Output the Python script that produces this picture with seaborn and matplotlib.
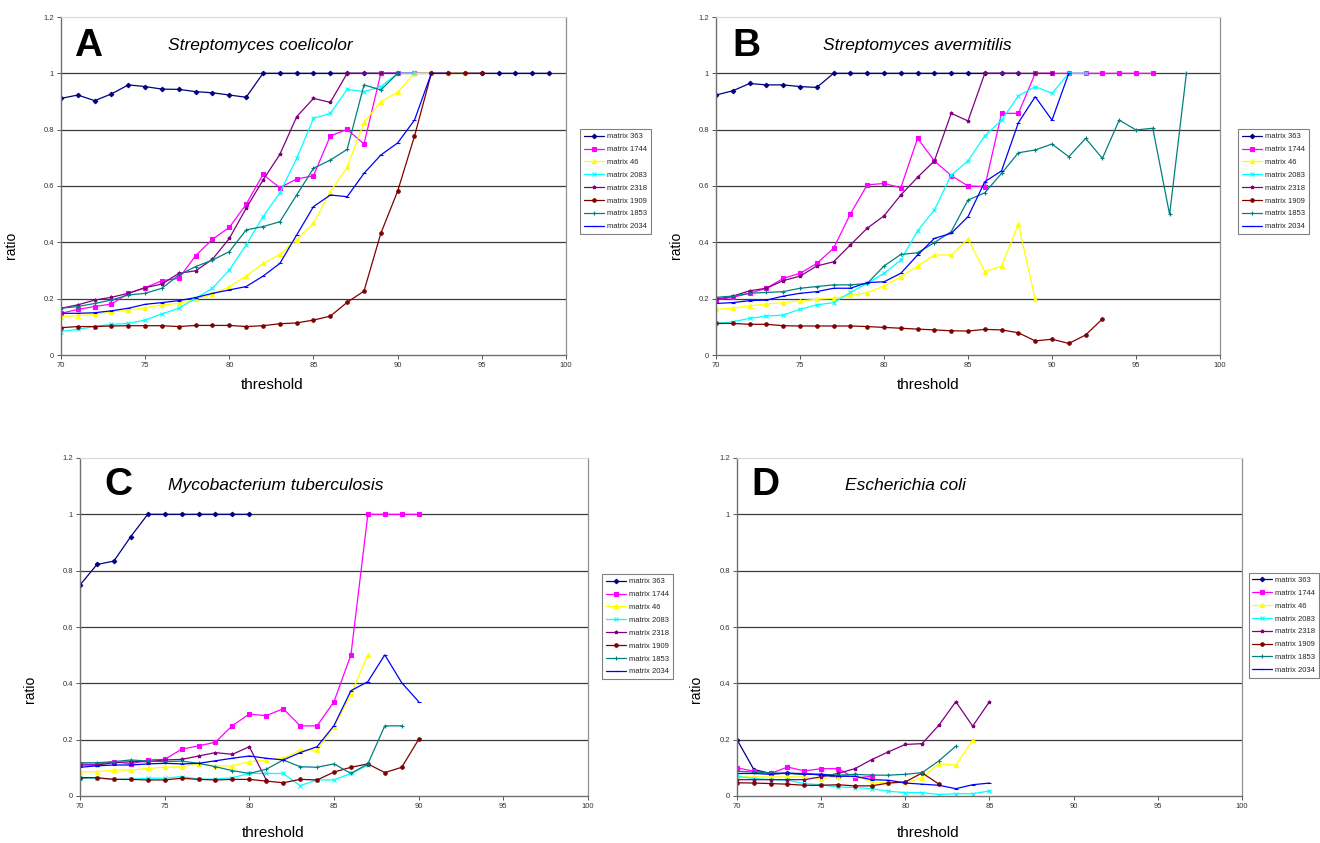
import matplotlib
matplotlib.use("Agg")
import matplotlib.pyplot as plt
import seaborn as sns
import numpy as np

# ---------------- data ----------------
START = 70
SERIES = ["matrix 363", "matrix 1744", "matrix 46", "matrix 2083",
          "matrix 2318", "matrix 1909", "matrix 1853", "matrix 2034"]

# Panel A - Streptomyces coelicolor
a_363 = [0.911, 0.923, 0.903, 0.927, 0.959, 0.953, 0.944, 0.943, 0.935, 0.931, 0.923, 0.915,
         1.0, 1.0, 1.0, 1.0, 1.0, 1.0, 1.0, 1.0, 1.0, 1.0, 1.0, 1.0, 1.0, 1.0, 1.0, 1.0, 1.0, 1.0]
a_1744 = [0.148, 0.162, 0.172, 0.181, 0.219, 0.239, 0.264, 0.272, 0.353, 0.411, 0.453, 0.535,
          0.641, 0.594, 0.625, 0.636, 0.778, 0.801, 0.749, 1.0, 1.0, 1.0]
a_46 = [0.136, 0.140, 0.144, 0.152, 0.160, 0.168, 0.178, 0.183, 0.198, 0.215, 0.243, 0.280,
        0.325, 0.357, 0.410, 0.467, 0.580, 0.666, 0.826, 0.899, 0.933, 1.0, 1.0, 1.0, 1.0]
a_2083 = [0.083, 0.091, 0.101, 0.109, 0.112, 0.124, 0.146, 0.166, 0.201, 0.237, 0.302, 0.391,
          0.491, 0.576, 0.698, 0.840, 0.858, 0.943, 0.935, 0.953, 1.0, 1.0]
a_2318 = [0.166, 0.178, 0.195, 0.205, 0.219, 0.239, 0.252, 0.290, 0.299, 0.340, 0.414, 0.521,
          0.621, 0.712, 0.846, 0.911, 0.897, 1.0, 1.0, 1.0, 1.0]
a_1909 = [0.097, 0.101, 0.101, 0.103, 0.104, 0.104, 0.104, 0.101, 0.105, 0.105, 0.105, 0.101,
          0.104, 0.111, 0.114, 0.124, 0.138, 0.187, 0.227, 0.432, 0.582, 0.777, 1.0, 1.0, 1.0, 1.0]
a_1853 = [0.166, 0.172, 0.183, 0.195, 0.213, 0.219, 0.237, 0.284, 0.314, 0.337, 0.367, 0.444,
          0.456, 0.473, 0.568, 0.663, 0.692, 0.730, 0.959, 0.941, 1.0]
a_2034 = [0.148, 0.148, 0.150, 0.157, 0.166, 0.180, 0.186, 0.193, 0.204, 0.219, 0.231, 0.243,
          0.280, 0.325, 0.426, 0.527, 0.568, 0.562, 0.645, 0.710, 0.753, 0.834, 1.0, 1.0]

# Panel B - Streptomyces avermitilis
b_363 = [0.923, 0.938, 0.964, 0.959, 0.959, 0.953, 0.950,
         1.0, 1.0, 1.0, 1.0, 1.0, 1.0, 1.0, 1.0, 1.0, 1.0, 1.0, 1.0]
b_1744 = [0.195, 0.205, 0.219, 0.237, 0.272, 0.290, 0.325, 0.379, 0.501, 0.604, 0.609, 0.594,
          0.769, 0.689, 0.637, 0.600, 0.598, 0.858, 0.858, 1.0, 1.0, 1.0, 1.0, 1.0, 1.0, 1.0, 1.0]
b_46 = [0.162, 0.166, 0.175, 0.181, 0.186, 0.192, 0.198, 0.201, 0.212, 0.221, 0.245, 0.278,
        0.316, 0.355, 0.355, 0.412, 0.296, 0.316, 0.464, 0.198]
b_2083 = [0.112, 0.118, 0.130, 0.138, 0.142, 0.162, 0.178, 0.186, 0.222, 0.254, 0.290, 0.337,
          0.441, 0.515, 0.639, 0.689, 0.778, 0.834, 0.920, 0.953, 0.929, 1.0, 1.0]
b_2318 = [0.198, 0.209, 0.228, 0.237, 0.264, 0.280, 0.316, 0.331, 0.391, 0.450, 0.494, 0.568,
          0.631, 0.689, 0.858, 0.831, 1.0, 1.0, 1.0, 1.0, 1.0]
b_1909 = [0.112, 0.112, 0.109, 0.109, 0.104, 0.103, 0.103, 0.103, 0.103, 0.101, 0.098, 0.095,
          0.092, 0.089, 0.086, 0.085, 0.091, 0.089, 0.079, 0.050, 0.056, 0.041, 0.071, 0.128]
b_1853 = [0.205, 0.209, 0.219, 0.222, 0.225, 0.237, 0.243, 0.249, 0.249, 0.254, 0.316, 0.357,
          0.363, 0.399, 0.438, 0.550, 0.576, 0.645, 0.718, 0.728, 0.749, 0.704, 0.769, 0.698,
          0.834, 0.799, 0.805, 0.499, 1.0]
b_2034 = [0.183, 0.186, 0.193, 0.195, 0.209, 0.219, 0.225, 0.237, 0.237, 0.257, 0.260, 0.290,
          0.355, 0.414, 0.432, 0.491, 0.615, 0.654, 0.825, 0.917, 0.834, 1.0]

# Panel C - Mycobacterium tuberculosis
c_363 = [0.749, 0.822, 0.834, 0.921, 1.0, 1.0, 1.0, 1.0, 1.0, 1.0, 1.0]
c_1744 = [0.114, 0.112, 0.122, 0.114, 0.128, 0.130, 0.166, 0.178, 0.191, 0.250, 0.291, 0.285,
          0.310, 0.249, 0.249, 0.335, 0.501, 1.0, 1.0, 1.0, 1.0]
c_46 = [0.086, 0.086, 0.092, 0.092, 0.098, 0.102, 0.104, 0.114, 0.107, 0.107, 0.122, 0.128,
        0.134, 0.163, 0.163, 0.246, 0.361, 0.501]
c_2083 = [0.063, 0.063, 0.059, 0.060, 0.063, 0.063, 0.069, 0.060, 0.060, 0.065, 0.080, 0.080,
          0.080, 0.037, 0.057, 0.057, 0.080, 0.110]
c_2318 = [0.110, 0.110, 0.118, 0.122, 0.122, 0.128, 0.130, 0.142, 0.154, 0.148, 0.175, 0.057]
c_1909 = [0.065, 0.065, 0.059, 0.059, 0.057, 0.057, 0.063, 0.059, 0.057, 0.059, 0.059, 0.053,
          0.047, 0.059, 0.057, 0.085, 0.102, 0.114, 0.083, 0.102, 0.201]
c_1853 = [0.118, 0.118, 0.122, 0.128, 0.124, 0.122, 0.124, 0.116, 0.104, 0.090, 0.080, 0.095,
          0.128, 0.104, 0.102, 0.114, 0.080, 0.114, 0.249, 0.249]
c_2034 = [0.102, 0.107, 0.110, 0.110, 0.114, 0.116, 0.114, 0.116, 0.125, 0.134, 0.142, 0.134,
          0.128, 0.154, 0.175, 0.250, 0.374, 0.406, 0.501, 0.402, 0.335]

# Panel D - Escherichia coli
d_363 = [0.200, 0.094, 0.080, 0.080, 0.080, 0.074, 0.068, 0.074]
d_1744 = [0.100, 0.088, 0.080, 0.103, 0.089, 0.097, 0.097, 0.064, 0.070]
d_46 = [0.068, 0.068, 0.068, 0.068, 0.068, 0.062, 0.068, 0.074, 0.050, 0.046, 0.046, 0.065,
        0.115, 0.109, 0.198]
d_2083 = [0.070, 0.062, 0.058, 0.056, 0.044, 0.040, 0.032, 0.030, 0.026, 0.017, 0.012, 0.012,
          0.005, 0.008, 0.008, 0.018]
d_2318 = [0.058, 0.058, 0.058, 0.058, 0.058, 0.068, 0.080, 0.097, 0.129, 0.157, 0.183, 0.186,
          0.252, 0.335, 0.248, 0.335]
d_1909 = [0.047, 0.046, 0.044, 0.042, 0.038, 0.038, 0.040, 0.036, 0.036, 0.046, 0.050, 0.082,
          0.042]
d_1853 = [0.088, 0.085, 0.082, 0.080, 0.077, 0.077, 0.074, 0.077, 0.074, 0.074, 0.077, 0.083,
          0.125, 0.177]
d_2034 = [0.080, 0.080, 0.077, 0.082, 0.077, 0.077, 0.070, 0.070, 0.058, 0.056, 0.046, 0.042,
          0.038, 0.026, 0.040, 0.046]

PANELS = [
    ("A", "Streptomyces coelicolor", [a_363, a_1744, a_46, a_2083, a_2318, a_1909, a_1853, a_2034]),
    ("B", "Streptomyces avermitilis", [b_363, b_1744, b_46, b_2083, b_2318, b_1909, b_1853, b_2034]),
    ("C", "Mycobacterium tuberculosis", [c_363, c_1744, c_46, c_2083, c_2318, c_1909, c_1853, c_2034]),
    ("D", "Escherichia coli", [d_363, d_1744, d_46, d_2083, d_2318, d_1909, d_1853, d_2034]),
]

X_TICKS = [70, 75, 80, 85, 90, 95, 100]
Y_TICKS = [0, 0.2, 0.4, 0.6, 0.8, 1.0, 1.2]
Y_TICK_LABELS = ["0", "0.2", "0.4", "0.6", "0.8", "1", "1.2"]

# ---------------- style ----------------
COLORS = ["#000080", "#FF00FF", "#FFFF00", "#00FFFF", "#800080", "#800000", "#008080", "#0000FF"]
MARKERS = ["D", "s", "^", "x", "*", "o", "+", "_"]
MSIZES = [2.3, 3.0, 3.0, 2.4, 2.6, 2.5, 2.8, 2.6]

sns.set_theme(style="white")
plt.rcParams["font.family"] = ["Liberation Sans", "DejaVu Sans"]

fig = plt.figure(figsize=(13.2, 8.43), dpi=100)

# axes rectangles (figure fractions)
RECTS = [
    (61 / 1320, 1 - 355 / 843, 505 / 1320, 338 / 843),
    (716 / 1320, 1 - 355 / 843, 504 / 1320, 338 / 843),
    (80 / 1320, 1 - 796 / 843, 508 / 1320, 338 / 843),
    (737 / 1320, 1 - 796 / 843, 505 / 1320, 338 / 843),
]
LETTER_POS = [(0.026, 0.915), (0.032, 0.915), (0.047, 0.92), (0.028, 0.92)]
TITLE_X = [0.212, 0.212, 0.173, 0.214]
YLABEL_POS = [(-0.085, 0.325), (-0.065, 0.325), (-0.085, 0.314), (-0.067, 0.314)]
XLABEL_POS = [(0.418, -0.068), (0.42, -0.068), (0.38, -0.09), (0.378, -0.09)]
LEGEND_POS = [(1.028, 0.668), (1.036, 0.668), (1.028, 0.656), (1.013, 0.66)]

for i, (letter, species, series_vals) in enumerate(PANELS):
    ax = fig.add_axes(RECTS[i])
    for name, vals, col, mk, ms in zip(SERIES, series_vals, COLORS, MARKERS, MSIZES):
        xs = list(range(START, START + len(vals)))
        sns.lineplot(x=xs, y=vals, ax=ax, color=col, marker=mk, markersize=ms,
                     markeredgecolor=col, markerfacecolor=col, markeredgewidth=0.8,
                     linewidth=0.9, label=name, errorbar=None)

    ax.set_xlim(70, 100)
    ax.set_ylim(0, 1.2)
    ax.set_xticks(X_TICKS)
    ax.set_xticklabels([str(t) for t in X_TICKS])
    ax.set_yticks(Y_TICKS)
    ax.set_yticklabels(Y_TICK_LABELS)
    ax.tick_params(axis="both", labelsize=5.5, labelcolor="#333333", length=3,
                   width=0.7, color="#555555", direction="out", pad=2)
    ax.tick_params(axis="x", bottom=True)
    ax.tick_params(axis="y", left=True)

    ax.yaxis.grid(True, color="#3a3a3a", linewidth=0.9)
    ax.xaxis.grid(False)
    ax.set_axisbelow(True)
    for gl, yv in zip(ax.get_ygridlines(), Y_TICKS):
        if yv in (0, 1.2):
            gl.set_visible(False)

    for side in ["left", "bottom"]:
        ax.spines[side].set_color("#707070")
        ax.spines[side].set_linewidth(1.0)
    ax.spines["right"].set_color("#909090")
    ax.spines["right"].set_linewidth(0.9)
    ax.spines["top"].set_color("#d8d8d8")
    ax.spines["top"].set_linewidth(0.8)

    ax.set_xlabel("threshold", fontsize=11, color="black")
    ax.set_ylabel("ratio", fontsize=10, color="black")
    ax.xaxis.set_label_coords(*XLABEL_POS[i])
    ax.yaxis.set_label_coords(*YLABEL_POS[i])

    ax.text(LETTER_POS[i][0], LETTER_POS[i][1], letter, transform=ax.transAxes,
            fontsize=28, fontweight="bold", ha="left", va="center", color="black")
    ax.text(TITLE_X[i], LETTER_POS[i][1], species, transform=ax.transAxes,
            fontsize=12.5, fontstyle="italic", ha="left", va="center", color="black")

    leg = ax.legend(loc="upper left", bbox_to_anchor=LEGEND_POS[i], fontsize=5.5,
                    frameon=True, fancybox=False, framealpha=1, edgecolor="#808080",
                    handlelength=2.6, handletextpad=0.4, labelspacing=0.72,
                    borderpad=0.5, borderaxespad=0)
    leg.get_frame().set_linewidth(0.8)

fig.savefig("out.png", dpi=100)
